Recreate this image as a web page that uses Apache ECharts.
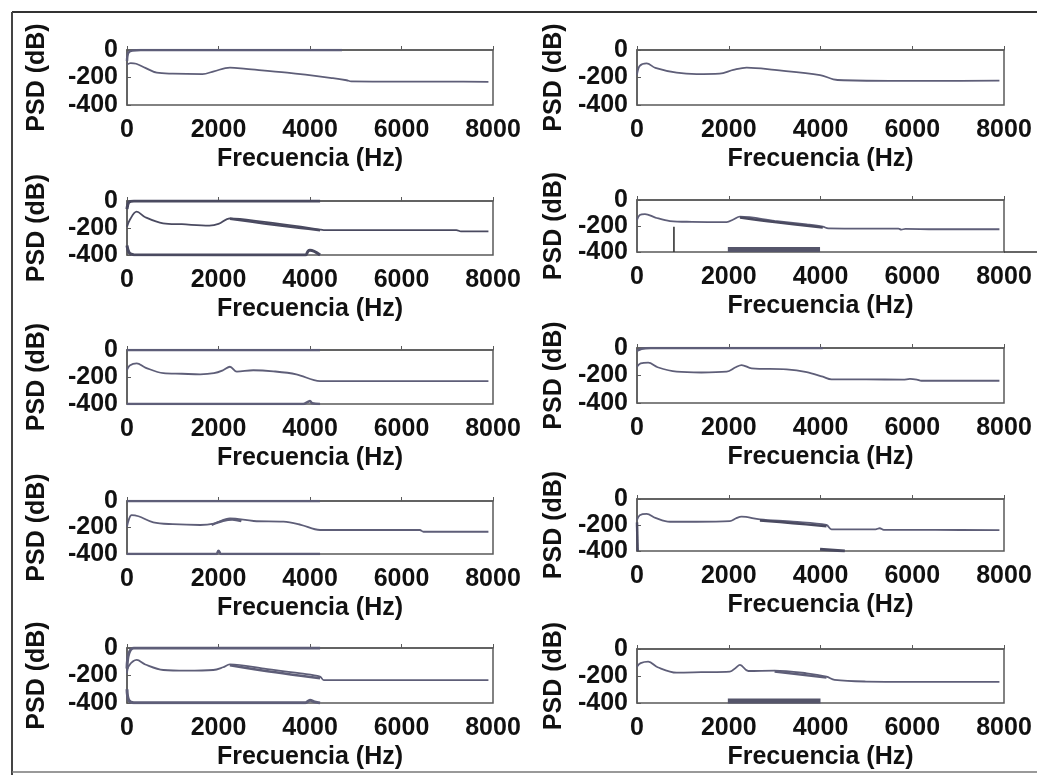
<!DOCTYPE html>
<html><head><meta charset="utf-8">
<script src="https://cdn.jsdelivr.net/npm/echarts@6/dist/echarts.min.js"></script>
<style>html,body{margin:0;padding:0;background:#fff}#c{width:1037px;height:780px}</style>
</head><body><div id="c"></div>
<script>
// ---- axis settings / labels ----
const xMin = 0, xMax = 8000, xStep = 2000;
const yMin = -400, yMax = 0, yStep = 200;
const xName = 'Frecuencia (Hz)';
const yName = 'PSD (dB)';

// ---- PSD curves [frequency Hz, dB] ----
const psd1 = [[0,-105],[80,-95],[200,-100],[400,-130],[650,-165],[1000,-172],[1650,-175],[1900,-155],[2250,-128],[2600,-138],[3500,-165],[4500,-205],[4800,-220],[4900,-228],[6000,-230],[7000,-230],[7900,-232]];
const psd2 = [[0,-180],[60,-115],[210,-97],[400,-130],[865,-165],[1300,-175],[1800,-172],[2100,-145],[2390,-128],[3000,-145],[3990,-182],[4280,-213],[4500,-220],[5500,-225],[6500,-225],[7900,-223]];
const psd3 = [[0,-190],[60,-140],[212,-79],[400,-120],[790,-165],[1200,-172],[1800,-182],[2000,-170],[2250,-128],[3000,-155],[3800,-190],[4220,-212],[4300,-215],[6000,-215],[7200,-215],[7300,-225],[7900,-225]];
const psd4 = [[0,-154],[60,-115],[174,-108],[400,-135],[720,-162],[1200,-168],[1955,-170],[2100,-150],[2245,-128],[3000,-160],[3700,-188],[4050,-205],[4170,-218],[5000,-220],[5700,-220],[5760,-228],[5850,-222],[6500,-225],[7900,-225]];
const psd5 = [[0,-148],[60,-115],[212,-99],[400,-130],[795,-172],[1200,-176],[1600,-180],[1900,-172],[2100,-150],[2250,-124],[2400,-160],[2760,-150],[3200,-158],[3700,-180],[4220,-230],[4400,-230],[6000,-230],[7900,-230]];
const psd6 = [[0,-136],[80,-112],[245,-107],[450,-140],[865,-172],[1400,-178],[1955,-172],[2150,-140],[2280,-124],[2500,-148],[3260,-155],[3700,-175],[4050,-209],[4240,-228],[5000,-228],[5800,-230],[5950,-225],[6100,-230],[6200,-238],[7900,-238]];
const psd7 = [[0,-194],[40,-140],[100,-106],[250,-115],[575,-161],[1000,-175],[1600,-181],[1900,-170],[2250,-131],[2770,-151],[3420,-156],[3800,-180],[4220,-219],[5000,-219],[6400,-219],[6480,-232],[7900,-232]];
const psd8 = [[0,-162],[60,-125],[211,-115],[400,-145],[720,-175],[1300,-175],[2025,-170],[2150,-150],[2280,-136],[2680,-157],[3400,-175],[4130,-200],[4240,-233],[5200,-233],[5290,-225],[5380,-238],[6500,-238],[7900,-240]];
const psd9 = [[0,-184],[40,-130],[212,-87],[400,-120],[795,-160],[1300,-165],[1886,-160],[2100,-140],[2250,-119],[3000,-150],[3800,-185],[4220,-208],[4300,-233],[6000,-233],[7900,-233]];
const psd10 = [[0,-131],[80,-105],[245,-94],[450,-135],[865,-175],[1400,-172],[2025,-168],[2150,-140],[2245,-118],[2425,-163],[3000,-160],[3700,-180],[4130,-205],[4310,-229],[4990,-241],[6000,-243],[7900,-243]];

// ---- secondary traces (envelopes, bands, spikes) ----
const top1 = [[0,-80],[30,-20],[120,-3],[300,0],[4700,0]];
const band3 = [[2250,-132],[3000,-166],[3800,-200],[4220,-216]];
const top3 = [[0,-60],[40,-10],[150,0],[4220,0]];
const bot3 = [[0,-330],[50,-385],[150,-398],[3900,-400],[3960,-370],[4000,-365],[4220,-400]];
const band4 = [[2245,-135],[3000,-170],[4050,-212]];
const spike4 = [[805,-205],[805,-400]];
const floor4 = [[1980,-380],[3990,-380]];
const top5 = [[0,0],[4220,0]];
const bot5 = [[0,-400],[3850,-400],[3950,-385],[4000,-378],[4050,-395],[4220,-400]];
const top6 = [[0,-20],[100,-5],[300,0],[4050,0]];
const band7 = [[1850,-180],[2100,-150],[2300,-140],[2500,-152]];
const top7 = [[0,0],[4220,0]];
const bot7 = [[0,-400],[1950,-400],[2000,-375],[2060,-400],[4220,-400]];
const band8 = [[2680,-165],[3400,-186],[4130,-210]];
const wedge8 = [[3990,-387],[4530,-400]];
const left8 = [[0,-180],[15,-400]];
const band9 = [[2250,-126],[3000,-166],[3800,-202],[4220,-220]];
const top9 = [[0,-150],[40,-40],[150,0],[4220,0]];
const bot9 = [[0,-300],[40,-380],[150,-398],[3900,-398],[4000,-380],[4100,-392],[4220,-400]];
const band10 = [[3000,-166],[4130,-212]];
const floor10 = [[1980,-385],[4000,-385]];

const MAIN = '#5e5e78', DARK = '#4a4a60';
const traces = [
  [[psd1,1.8,MAIN],[top1,2.5,MAIN]],
  [[psd2,1.8,MAIN]],
  [[psd3,1.8,DARK],[band3,2.5,DARK],[top3,3,DARK],[bot3,3,DARK]],
  [[psd4,1.8,MAIN],[band4,2.5,DARK],[spike4,1.6,'#333'],[floor4,5,'#55556a']],
  [[psd5,1.8,MAIN],[top5,2.5,MAIN],[bot5,2.5,MAIN]],
  [[psd6,1.8,MAIN],[top6,2.5,MAIN]],
  [[psd7,1.8,MAIN],[band7,2.5,MAIN],[top7,2.5,MAIN],[bot7,2.5,MAIN]],
  [[psd8,1.8,MAIN],[band8,2.5,DARK],[wedge8,3,DARK],[left8,2.5,DARK]],
  [[psd9,1.8,MAIN],[band9,2.5,MAIN],[top9,3,MAIN],[bot9,3,MAIN]],
  [[psd10,1.8,MAIN],[band10,2.5,MAIN],[floor10,5,'#55556a']]
];

// ---- layout (pixels) ----
const colLeft = [127, 637], colWidth = [366, 367];
const rowTopL = [50,201,350,501,648], rowBotL = [105,255,404,554,703];
const rowTopR = [50,200,348,499,649], rowBotR = [105,252,403,551,703];

const FONT = "'Liberation Sans', Arial, sans-serif";
const grids = [], xAxes = [], yAxes = [], series = [];
for (let i = 0; i < 10; i++) {
  const c = i % 2, r = Math.floor(i / 2);
  const top = c ? rowTopR[r] : rowTopL[r];
  const bot = c ? rowBotR[r] : rowBotL[r];
  grids.push({left: colLeft[c], width: colWidth[c], top: top, height: bot - top,
    show: true, borderColor: '#5a5a5a', borderWidth: 1.5, backgroundColor: 'transparent'});
  xAxes.push({type: 'value', gridIndex: i, min: xMin, max: xMax, interval: xStep,
    name: xName, nameLocation: 'middle', nameGap: 42,
    nameTextStyle: {fontFamily: FONT, fontWeight: 'bold', fontSize: 25, color: '#111'},
    axisLine: {show: true, lineStyle: {color: '#5a5a5a', width: 1.5}},
    axisTick: {show: true, inside: true, length: 4, lineStyle: {color: '#5a5a5a'}},
    axisLabel: {fontFamily: FONT, fontWeight: 'bold', fontSize: 25, color: '#111', margin: 13,
      formatter: v => String(v)},
    splitLine: {show: false}});
  yAxes.push({type: 'value', gridIndex: i, min: yMin, max: yMax, interval: yStep,
    name: yName, nameLocation: 'middle', nameRotate: 90, nameGap: c ? 70 : 77,
    nameTextStyle: {fontFamily: FONT, fontWeight: 'bold', fontSize: 25, color: '#111'},
    axisLine: {show: true, lineStyle: {color: '#5a5a5a', width: 1.5}},
    axisTick: {show: true, inside: true, length: 4, lineStyle: {color: '#5a5a5a'}},
    axisLabel: {fontFamily: FONT, fontWeight: 'bold', fontSize: 25, color: '#111', margin: 9,
      formatter: v => String(v)},
    splitLine: {show: false}});
  traces[i].forEach(t => {
    series.push({type: 'line', xAxisIndex: i, yAxisIndex: i, data: t[0], showSymbol: false,
      smooth: 0.35, clip: true, animation: false, silent: true,
      lineStyle: {width: t[1], color: t[2]}});
  });
}

const chart = echarts.init(document.getElementById('c'), null, {renderer: 'canvas'});
chart.setOption({
  backgroundColor: '#fff',
  animation: false,
  grid: grids, xAxis: xAxes, yAxis: yAxes, series: series,
  graphic: [
    {type: 'line', shape: {x1: 12, y1: 12, x2: 1037, y2: 12}, style: {stroke: '#333', lineWidth: 2}},
    {type: 'line', shape: {x1: 12, y1: 12, x2: 12, y2: 775}, style: {stroke: '#444', lineWidth: 2}},
    {type: 'line', shape: {x1: 12, y1: 772, x2: 1037, y2: 772}, style: {stroke: '#777', lineWidth: 1.5}},
    {type: 'line', shape: {x1: 1004, y1: 252, x2: 1037, y2: 252}, style: {stroke: '#333', lineWidth: 1.5}}
  ]
});
</script></body></html>
